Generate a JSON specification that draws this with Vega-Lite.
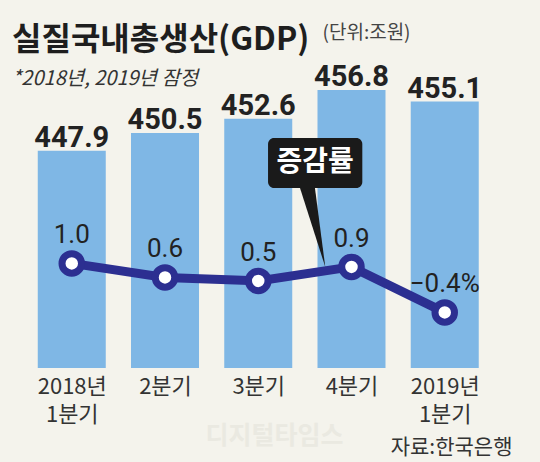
{
  "$schema": "https://vega.github.io/schema/vega-lite/v6.json",
  "width": 540,
  "height": 368,
  "autosize": {"type": "none"},
  "padding": {"top": 0, "left": 0, "right": 0, "bottom": 94},
  "background": "#f4f3ec",
  "title": {
    "text": "실질국내총생산(GDP)",
    "subtitle": "*2018년, 2019년 잠정",
    "anchor": "start",
    "frame": "group",
    "orient": "top",
    "offset": -90,
    "dx": 12,
    "font": "Noto Sans CJK KR",
    "fontSize": 32,
    "fontWeight": "bold",
    "color": "#1e1e1e",
    "subtitleFont": "Noto Sans CJK KR",
    "subtitleFontSize": 20,
    "subtitleFontStyle": "italic",
    "subtitleColor": "#333333",
    "subtitlePadding": 12
  },
  "datasets": {
    "gdp": [
      {"q": 1, "gdp": 447.9, "rate": 1.0, "rateText": "1.0", "note": ""},
      {"q": 2, "gdp": 450.5, "rate": 0.6, "rateText": "0.6", "note": ""},
      {"q": 3, "gdp": 452.6, "rate": 0.5, "rateText": "0.5", "note": "증감률"},
      {"q": 4, "gdp": 456.8, "rate": 0.9, "rateText": "0.9", "note": ""},
      {"q": 5, "gdp": 455.1, "rate": -0.4, "rateText": "−0.4%", "note": ""}
    ]
  },
  "data": {"name": "gdp"},
  "encoding": {
    "x": {
      "field": "q",
      "type": "quantitative",
      "scale": {"domain": [0.284, 5.968], "nice": false, "zero": false},
      "axis": {
        "values": [1, 2, 3, 4, 5],
        "labelExpr": "datum.value == 1 ? ['2018년', '1분기'] : datum.value == 2 ? '2분기' : datum.value == 3 ? '3분기' : datum.value == 4 ? '4분기' : ['2019년', '1분기']",
        "labelFont": "Noto Sans CJK KR",
        "labelFontSize": 22,
        "labelColor": "#333333",
        "labelBaseline": "top",
        "labelPadding": 8,
        "labelLineHeight": 28,
        "labelFlush": false,
        "labelOverlap": false,
        "domain": false,
        "ticks": false,
        "grid": false,
        "title": "자료:한국은행",
        "titleFont": "Noto Sans CJK KR",
        "titleFontSize": 21,
        "titleFontWeight": "normal",
        "titleColor": "#333333",
        "titleX": 512,
        "titleY": 85,
        "titleAlign": "right",
        "titleAnchor": "end",
        "titleBaseline": "alphabetic"
      }
    }
  },
  "layer": [
    {
      "encoding": {
        "y": {
          "field": "gdp",
          "type": "quantitative",
          "scale": {"domain": [416.2, 469.92], "nice": false, "zero": false},
          "axis": {
            "domain": false,
            "ticks": false,
            "labels": false,
            "grid": false,
            "title": "(단위:조원)",
            "titleAngle": 0,
            "titleX": 322,
            "titleY": 32,
            "titleAlign": "left",
            "titleBaseline": "middle",
            "titleFont": "Noto Sans CJK KR",
            "titleFontSize": 19,
            "titleFontWeight": "normal",
            "titleColor": "#444444"
          }
        }
      },
      "layer": [
        {
          "mark": {"type": "bar", "size": 68, "color": "#7fb7e5"},
          "encoding": {"y2": {"datum": 416.2}}
        },
        {
          "mark": {
            "type": "text",
            "baseline": "alphabetic",
            "dy": -4,
            "font": "Roboto",
            "fontWeight": "bold",
            "fontSize": 29,
            "color": "#222222"
          },
          "encoding": {"text": {"field": "gdp", "type": "quantitative", "format": ".1f"}}
        }
      ]
    },
    {
      "encoding": {
        "y": {
          "field": "rate",
          "type": "quantitative",
          "scale": {"domain": [-1.989, 8.526], "nice": false, "zero": false},
          "axis": {
            "orient": "right",
            "domain": false,
            "ticks": false,
            "labels": false,
            "grid": false,
            "title": "디지털타임스",
            "titleAngle": 0,
            "titleX": -266,
            "titleY": 435,
            "titleAlign": "center",
            "titleBaseline": "middle",
            "titleFont": "Noto Sans CJK KR",
            "titleFontSize": 25,
            "titleFontWeight": "bold",
            "titleColor": "#eae9e1"
          }
        }
      },
      "layer": [
        {
          "mark": {"type": "line", "color": "#2c2f91", "strokeWidth": 9}
        },
        {
          "mark": {
            "type": "point",
            "filled": true,
            "fill": "#ffffff",
            "stroke": "#2c2f91",
            "strokeWidth": 7,
            "size": 380,
            "opacity": 1
          }
        },
        {
          "mark": {
            "type": "text",
            "baseline": "alphabetic",
            "dy": -20,
            "font": "Roboto",
            "fontSize": 26,
            "color": "#222222"
          },
          "encoding": {"text": {"field": "rateText"}}
        },
        {
          "transform": [{"filter": "datum.note != ''"}],
          "layer": [
            {
              "mark": {"type": "rect", "color": "#1a1a1a", "cornerRadius": 6},
              "encoding": {
                "x": {"datum": 3.105},
                "x2": {"datum": 4.116},
                "y": {"datum": 4.583},
                "y2": {"datum": 3.154}
              }
            },
            {
              "mark": {
                "type": "point",
                "shape": "M -0.33 -1.06 L 0.06 -1.06 L 0.33 1 Z",
                "size": 6241,
                "filled": true,
                "color": "#1a1a1a",
                "opacity": 1
              },
              "encoding": {
                "x": {"datum": 3.579},
                "y": {"datum": 2.026}
              }
            },
            {
              "mark": {
                "type": "text",
                "font": "Noto Sans CJK KR",
                "fontWeight": "bold",
                "fontSize": 28,
                "color": "#ffffff",
                "baseline": "middle"
              },
              "encoding": {
                "x": {"datum": 3.611},
                "y": {"datum": 3.869},
                "text": {"field": "note"}
              }
            }
          ]
        }
      ]
    }
  ],
  "resolve": {"scale": {"y": "independent"}, "axis": {"y": "independent"}},
  "config": {"view": {"stroke": null}}
}
